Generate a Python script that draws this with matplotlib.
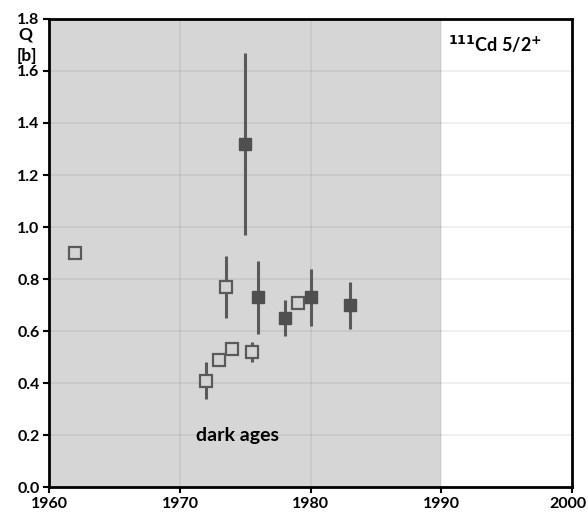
import matplotlib
matplotlib.use("Agg")
import matplotlib.pyplot as plt
import matplotlib.transforms as mtransforms
import numpy as np

# Open-symbol measurements
open_years = [1962, 1972, 1973, 1973.5, 1974, 1975.5, 1979]
open_q = [0.90, 0.41, 0.49, 0.77, 0.53, 0.52, 0.71]
open_lo = [0.90, 0.34, 0.49, 0.65, 0.53, 0.48, 0.71]
open_hi = [0.90, 0.48, 0.49, 0.89, 0.53, 0.56, 0.71]

# Filled-symbol measurements
filled_years = [1975, 1976, 1978, 1980, 1983]
filled_q = [1.32, 0.73, 0.65, 0.73, 0.70]
filled_lo = [0.97, 0.59, 0.58, 0.62, 0.61]
filled_hi = [1.67, 0.87, 0.72, 0.84, 0.79]

x_ticks = [1960, 1970, 1980, 1990, 2000]
y_ticks = [0.0, 0.2, 0.4, 0.6, 0.8, 1.0, 1.2, 1.4, 1.6, 1.8]

plt.rcParams['font.family'] = ['Lato', 'DejaVu Sans']

fig = plt.figure(figsize=(5.88, 5.15), dpi=100)
ax = fig.add_axes([0.0838, 0.0538, 0.889, 0.9095])

ax.set_xlim(1960, 2000)
ax.set_ylim(0, 1.8)
ax.axvspan(1960, 1990, color='#d6d6d6', zorder=0, lw=0)
ax.set_xticks(x_ticks)
ax.set_yticks(y_ticks)
ax.set_xticklabels([str(t) for t in x_ticks], fontweight='bold', fontsize=11.5)
ax.set_yticklabels([f"{t:.1f}" for t in y_ticks], fontweight='bold', fontsize=11.5)
ax.grid(True, color='black', alpha=0.07, lw=1.2, zorder=0.5)
ax.set_axisbelow(True)
ax.tick_params(direction='out', length=4, width=1.5, pad=3)
for s in ax.spines.values():
    s.set_linewidth(2.0)
    s.set_color('black')
    s.set_zorder(5)

# nudge the last x tick label so it stays inside the canvas
last = ax.get_xticklabels()[-1]
last.set_transform(last.get_transform() + mtransforms.ScaledTranslation(-4/100, 0, fig.dpi_scale_trans))

ecol = '#5a5a5a'
oy = np.array(open_q)
ax.errorbar(open_years, oy, yerr=[oy - np.array(open_lo), np.array(open_hi) - oy],
            fmt='s', ms=8, mfc='#d4d4d4', mec=ecol, mew=1.6, ecolor=ecol,
            elinewidth=2.2, capsize=0, zorder=3)
fy = np.array(filled_q)
ax.errorbar(filled_years, fy, yerr=[fy - np.array(filled_lo), np.array(filled_hi) - fy],
            fmt='s', ms=9, mfc='#4f4f4f', mec='#4f4f4f', mew=1, ecolor=ecol,
            elinewidth=2.2, capsize=0, zorder=3)

ax.text(1971.2, 0.20, 'dark ages', fontsize=14, fontweight='bold', ha='left', va='center')
ax.text(1990.5, 1.70, r'$^{\mathbf{111}}$Cd 5/2$^{\mathbf{+}}$', fontsize=13, fontweight='bold',
        ha='left', va='center')
fig.text(25/588, 1 - 34/515, 'Q', fontsize=12.5, fontweight='bold', ha='center', va='center')
fig.text(27/588, 1 - 56/515, '[b]', fontsize=12.5, fontweight='bold', ha='center', va='center')

fig.savefig('out.png', dpi=100)
